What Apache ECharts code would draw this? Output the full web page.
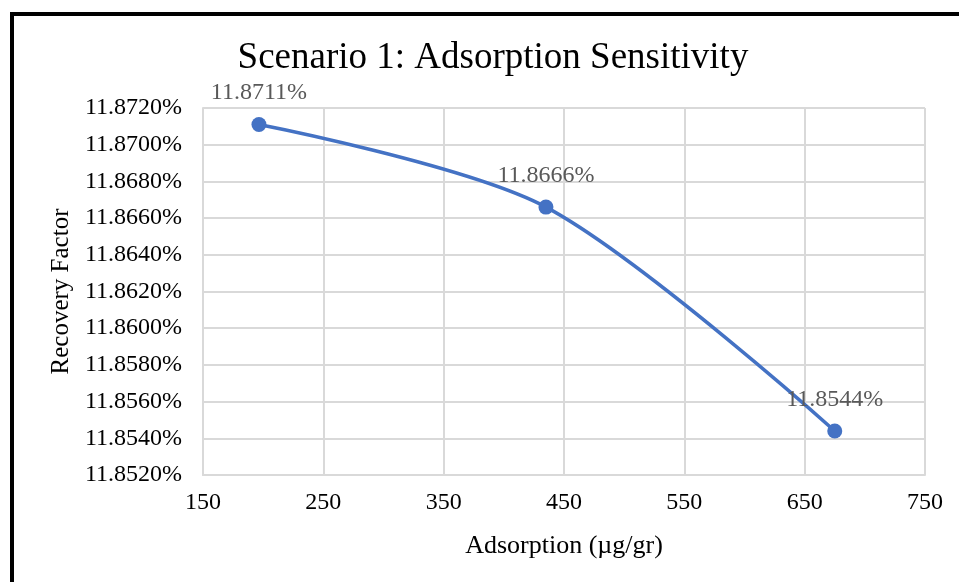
<!DOCTYPE html>
<html>
<head>
<meta charset="utf-8">
<script src="https://cdn.jsdelivr.net/npm/echarts@6/dist/echarts.min.js"></script>
<style>
  html, body { margin: 0; padding: 0; background: #fff; }
  #frame { position: absolute; left: 10px; top: 12px; width: 960px; height: 580px;
           border-left: 4px solid #000; border-top: 4px solid #000; }
  #chart { position: absolute; left: 0; top: 0; width: 959px; height: 582px; }
</style>
</head>
<body>
<div id="frame"></div>
<div id="chart"></div>
<script>
// adsorption (µg/gr) and recovery factor (%)
const adsorption = [196.5, 435, 675]
const recovery = [11.8711, 11.8666, 11.8544]

const xTicks = { min: 150, max: 750, step: 100 }
const yTicks = { min: 11.852, max: 11.872, step: 0.002 }

const serif = '"Liberation Serif", "Times New Roman", serif'
const gridColor = '#d9d9d9'

const chart = echarts.init(document.getElementById('chart'), null, { renderer: 'canvas' })

chart.setOption({
  animation: false,
  title: {
    text: 'Scenario 1: Adsorption Sensitivity',
    left: 488,
    top: 35,
    textAlign: 'center',
    textStyle: { fontFamily: serif, fontSize: 37, fontWeight: 'normal', color: '#000' }
  },
  grid: { left: 203, right: 34, top: 108, bottom: 107 },
  xAxis: {
    type: 'value',
    min: xTicks.min,
    max: xTicks.max,
    interval: xTicks.step,
    name: 'Adsorption (µg/gr)',
    nameLocation: 'middle',
    nameGap: 58,
    nameTextStyle: { fontFamily: serif, fontSize: 26, color: '#000' },
    axisLine: { lineStyle: { color: gridColor, width: 2 } },
    axisTick: { show: false },
    axisLabel: { fontFamily: serif, fontSize: 24, color: '#000', margin: 16 },
    splitLine: { lineStyle: { color: gridColor, width: 2 } }
  },
  yAxis: {
    type: 'value',
    min: yTicks.min,
    max: yTicks.max,
    interval: yTicks.step,
    name: 'Recovery Factor',
    nameLocation: 'middle',
    nameGap: 127,
    nameTextStyle: { fontFamily: serif, fontSize: 25, color: '#000' },
    axisLine: { show: true, lineStyle: { color: gridColor, width: 2 } },
    axisTick: { show: false },
    axisLabel: {
      fontFamily: serif, fontSize: 24, color: '#000', margin: 21,
      formatter: v => v.toFixed(4) + '%'
    },
    splitLine: { lineStyle: { color: gridColor, width: 2 } }
  },
  series: [{
    type: 'line',
    data: adsorption.map((x, i) => [x, recovery[i]]),
    smooth: 0.3,
    symbol: 'circle',
    symbolSize: 15,
    lineStyle: { color: '#4472C4', width: 3.5 },
    itemStyle: { color: '#4472C4' },
    label: {
      show: true,
      position: 'top',
      distance: 12,
      fontFamily: serif,
      fontSize: 24,
      color: '#595959',
      formatter: p => p.value[1].toFixed(4) + '%'
    }
  }]
})
</script>
</body>
</html>
